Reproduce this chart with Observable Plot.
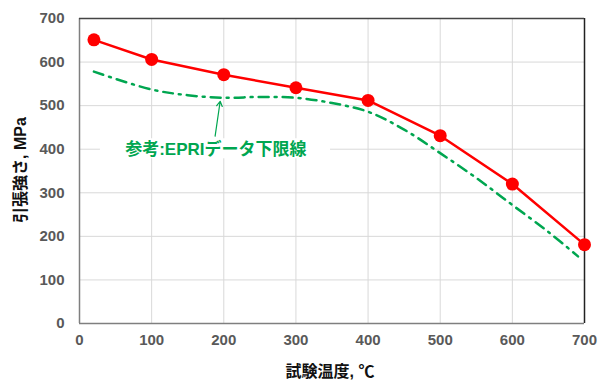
<!DOCTYPE html>
<html>
<head>
<meta charset="utf-8">
<script src="https://cdn.jsdelivr.net/npm/d3@7"></script>
<script src="https://cdn.jsdelivr.net/npm/@observablehq/plot@0.6"></script>
<style>
  html, body { margin: 0; padding: 0; background: #fff; }
  #chart { width: 598px; height: 383px; }
  svg { font-family: "Liberation Sans", Arial, "Noto Sans CJK JP", sans-serif; }
</style>
</head>
<body>
<div id="chart"></div>
<script>
// Measured data (試験温度 ℃, 引張強さ MPa)
const testTemps = [20, 100, 200, 300, 400, 500, 600, 700];
const tensileStrength = [651, 606, 571, 541, 512, 431, 320, 181];

// EPRI lower-bound reference curve
const epriTemps = [20, 100, 150, 200, 250, 300, 350, 400, 450, 500, 550, 600, 650, 691];
const epriValues = [578, 537, 524, 518, 520, 518, 506, 486, 445, 391, 334, 272, 210, 154];

const xTicks = [0, 100, 200, 300, 400, 500, 600, 700];
const yTicks = [0, 100, 200, 300, 400, 500, 600, 700];

const annotationLabel = "参考:EPRIデータ下限線";
const annotationPos = [{t: 189, v: 400}];
const annotationBox = [{t1: 29, t2: 348, v1: 378, v2: 424}];
const annotationArrow = [{t1: 188, v1: 430, t2: 195, v2: 510}];

const xLabel = "試験温度, ℃";
const yLabel = "引張強さ, MPa";

const green = "#00a650";
const red = "#ff0000";

const measured = testTemps.map((t, i) => ({t, v: tensileStrength[i]}));
const epri = epriTemps.map((t, i) => ({t, v: epriValues[i]}));

const chart = Plot.plot({
  width: 598,
  height: 383,
  marginLeft: 79,
  marginRight: 14,
  marginTop: 18,
  marginBottom: 60,
  style: {fontSize: "15px", fontWeight: "bold", color: "#595959", background: "#fff"},
  x: {domain: [0, 700], ticks: xTicks, tickSize: 0, tickPadding: 11, label: null},
  y: {domain: [0, 700], ticks: yTicks, tickSize: 0, tickPadding: 15, label: null},
  marks: [
    Plot.gridX(xTicks, {stroke: "#d9d9d9", strokeOpacity: 1, strokeWidth: 1}),
    Plot.gridY(yTicks, {stroke: "#d9d9d9", strokeOpacity: 1, strokeWidth: 1}),
    Plot.rect(annotationBox, {x1: "t1", x2: "t2", y1: "v1", y2: "v2", fill: "#fff"}),
    Plot.ruleX([0], {stroke: "#7f7f7f", strokeWidth: 1.5}),
    Plot.ruleY([0], {stroke: "#7f7f7f", strokeWidth: 1.5}),
    Plot.ruleX([700], {stroke: "#222", strokeWidth: 1.5}),
    Plot.ruleY([700], {stroke: "#444", strokeWidth: 1.5}),
    Plot.axisX({ticks: xTicks, tickSize: 0, tickPadding: 11, fill: "#595959", fontSize: 15, fontWeight: "bold", label: null}),
    Plot.axisY({ticks: yTicks, tickSize: 0, tickPadding: 15, fill: "#595959", fontSize: 15, fontWeight: "bold", label: null}),
    Plot.line(epri, {x: "t", y: "v", curve: "catmull-rom", stroke: green, strokeWidth: 2.5, strokeDasharray: "10,6,2,6"}),
    Plot.line(measured, {x: "t", y: "v", stroke: red, strokeWidth: 2.5}),
    Plot.dot(measured, {x: "t", y: "v", r: 6.5, fill: red, stroke: "none"}),
    Plot.arrow(annotationArrow, {x1: "t1", y1: "v1", x2: "t2", y2: "v2", stroke: green, strokeWidth: 1.2, headLength: 7, bend: 0}),
    Plot.text(annotationPos, {x: "t", y: "v", text: () => annotationLabel, fill: green, fontSize: 17, fontWeight: "bold", fontFamily: "'Liberation Sans', Arial, 'Noto Sans CJK JP', sans-serif"})
  ]
});

const svg = d3.select(chart);
// Axis titles
svg.append("text")
  .attr("x", 330).attr("y", 377)
  .attr("text-anchor", "middle")
  .attr("fill", "#111")
  .attr("font-size", 16)
  .attr("font-weight", "bold")
  .attr("font-family", "'Liberation Sans', Arial, 'Noto Sans CJK JP', sans-serif")
  .text(xLabel);
svg.append("text")
  .attr("transform", "translate(26,170) rotate(-90)")
  .attr("text-anchor", "middle")
  .attr("fill", "#111")
  .attr("font-size", 16)
  .attr("font-weight", "bold")
  .attr("font-family", "'Liberation Sans', Arial, 'Noto Sans CJK JP', sans-serif")
  .text(yLabel);

document.getElementById("chart").appendChild(chart);
</script>
</body>
</html>
